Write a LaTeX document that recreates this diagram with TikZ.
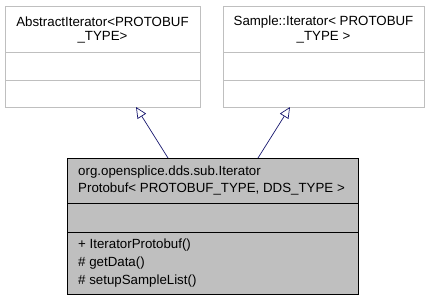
\documentclass[tikz,border=0pt]{standalone}
\usepackage{fontspec}
\setmainfont{Liberation Sans}
\usetikzlibrary{arrows.meta}
\definecolor{edgeblue}{RGB}{25,25,112}
\definecolor{boxgray}{RGB}{191,191,191}
\tikzset{
  basebox/.style={draw=boxgray, fill=white, line width=0.8pt, rectangle, inner sep=0pt, anchor=north west},
  classbox/.style={draw=black, fill=boxgray, line width=0.8pt, rectangle, inner sep=0pt, anchor=north west},
  txt/.style={inner sep=0pt, font=\fontsize{13.3}{15}\selectfont},
  inherit/.style={draw=edgeblue, line width=0.7pt, -{Triangle[open, length=11pt, width=10pt, fill=white]}}
}
\begin{document}
\begin{tikzpicture}[x=1pt, y=-1pt]
  \useasboundingbox (0,0) rectangle (429,301);
  % base class: AbstractIterator
  \node[basebox, minimum width=195pt, minimum height=46pt] (a1) at (5,6) {};
  \node[basebox, minimum width=195pt, minimum height=28pt] (a2) at (5,52) {};
  \node[basebox, minimum width=195pt, minimum height=27pt] (a3) at (5,80) {};
  \node[txt] at (102.5,22) {AbstractIterator<PROTOBUF};
  \node[txt] at (102.5,37.5) {\_TYPE>};
  % base class: Sample::Iterator
  \node[basebox, minimum width=201pt, minimum height=46pt] (b1) at (223,6) {};
  \node[basebox, minimum width=201pt, minimum height=28pt] (b2) at (223,52) {};
  \node[basebox, minimum width=201pt, minimum height=27pt] (b3) at (223,80) {};
  \node[txt] at (323.5,22) {Sample::Iterator< PROTOBUF};
  \node[txt] at (323.5,37.5) {\_TYPE >};
  % derived class
  \node[classbox, minimum width=291pt, minimum height=45pt] (c1) at (67,158) {};
  \node[classbox, minimum width=291pt, minimum height=29pt] (c2) at (67,203) {};
  \node[classbox, minimum width=291pt, minimum height=62pt] (c3) at (67,232) {};
  \node[txt, anchor=west] at (78,172) {org.opensplice.dds.sub.Iterator};
  \node[txt, anchor=west] at (78,189) {Protobuf< PROTOBUF\_TYPE, DDS\_TYPE >};
  \node[txt, anchor=west] at (78,245) {+ IteratorProtobuf()};
  \node[txt, anchor=west] at (78,263) {\# getData()};
  \node[txt, anchor=west] at (78,281) {\# setupSampleList()};
  % inheritance edges
  \coordinate (ca) at (168,158);
  \coordinate (cb) at (258,158);
  \coordinate (ta) at (136,107);
  \coordinate (tb) at (290,107);
  \draw[inherit] (ca) -- (ta);
  \draw[inherit] (cb) -- (tb);
\end{tikzpicture}
\end{document}
